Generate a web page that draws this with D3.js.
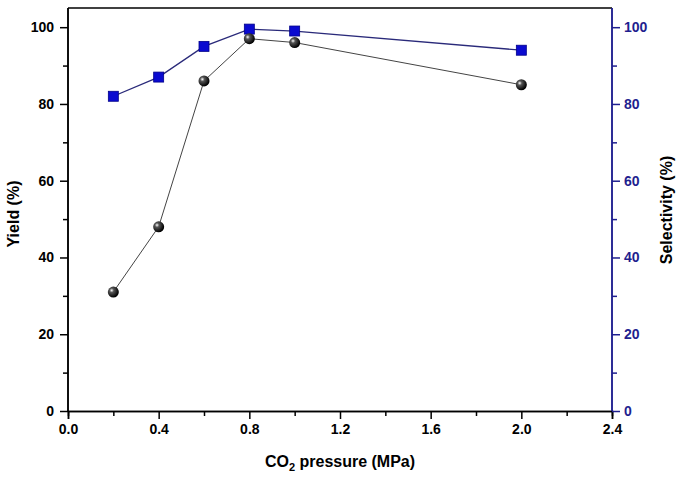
<!DOCTYPE html>
<html><head><meta charset="utf-8">
<script src="https://cdn.jsdelivr.net/npm/d3@7"></script>
<style>body{margin:0;background:#fff}svg{display:block;font-family:"Liberation Sans",Arial,sans-serif}</style>
</head><body><svg id="c" width="679" height="477"></svg>
<script>
const pressure = [0.2, 0.4, 0.6, 0.8, 1.0, 2.0];
const yieldVals = [31, 48, 86, 97, 96, 85];
const selectivity = [82, 87, 95, 99.5, 99, 94];
const xTicks = [0.0, 0.4, 0.8, 1.2, 1.6, 2.0, 2.4];
const yTicks = [0, 20, 40, 60, 80, 100];

const svg = d3.select("#c");
const L = 68, R = 612, T = 8, B = 411;
const x = d3.scaleLinear().domain([0, 2.4]).range([L, R]);
const yL = d3.scaleLinear().domain([0, 105]).range([B, T]);
const yR = d3.scaleLinear().domain([0, 105]).range([B, T]);
const navy = "#1f1f8f";

// frame top
svg.append("line").attr("x1", L).attr("x2", R).attr("y1", T).attr("y2", T).attr("stroke", "#000").attr("stroke-width", 1.5);

// bottom axis
const gx = svg.append("g").attr("transform", `translate(0,${B})`);
gx.call(d3.axisBottom(x).tickValues(d3.range(0.2, 2.4, 0.4)).tickSize(5).tickFormat(""));
const gx2 = svg.append("g").attr("transform", `translate(0,${B})`);
gx2.call(d3.axisBottom(x).tickValues(xTicks).tickSize(8).tickPadding(5).tickFormat(d3.format(".1f")));
[gx, gx2].forEach(g => { g.select(".domain").attr("stroke", "#000").attr("stroke-width", 1.5); g.selectAll(".tick line").attr("stroke", "#000").attr("stroke-width", 1.5); });
gx2.selectAll("text").attr("font-size", 14).attr("font-weight", "bold").attr("fill", "#000");

// left axis
const gy = svg.append("g").attr("transform", `translate(${L},0)`);
gy.call(d3.axisLeft(yL).tickValues(d3.range(10, 105, 20)).tickSize(5).tickFormat(""));
const gy2 = svg.append("g").attr("transform", `translate(${L},0)`);
gy2.call(d3.axisLeft(yL).tickValues(yTicks).tickSize(8).tickPadding(6));
[gy, gy2].forEach(g => { g.select(".domain").attr("stroke", "#000").attr("stroke-width", 1.5).attr("d", `M0,${B}V${T}`); g.selectAll(".tick line").attr("stroke", "#000").attr("stroke-width", 1.5); });
gy2.selectAll("text").attr("font-size", 14).attr("font-weight", "bold").attr("fill", "#000");

// right axis
const gr = svg.append("g").attr("transform", `translate(${R},0)`);
gr.call(d3.axisRight(yR).tickValues(d3.range(10, 105, 20)).tickSize(5).tickFormat(""));
const gr2 = svg.append("g").attr("transform", `translate(${R},0)`);
gr2.call(d3.axisRight(yR).tickValues(yTicks).tickSize(8).tickPadding(4));
[gr, gr2].forEach(g => { g.select(".domain").attr("stroke", navy).attr("stroke-width", 1.5).attr("d", `M0,${B}V${T}`); g.selectAll(".tick line").attr("stroke", navy).attr("stroke-width", 1.5); });
gr2.selectAll("text").attr("font-size", 14).attr("font-weight", "bold").attr("fill", navy);

// gradient for spheres
const defs = svg.append("defs");
const rg = defs.append("radialGradient").attr("id", "sph").attr("cx", "35%").attr("cy", "35%").attr("r", "65%");
rg.append("stop").attr("offset", "0%").attr("stop-color", "#ffffff");
rg.append("stop").attr("offset", "30%").attr("stop-color", "#555");
rg.append("stop").attr("offset", "100%").attr("stop-color", "#000");

// lines
const ly = d3.line().x((d,i) => x(pressure[i])).y(d => yL(d));
const ls = d3.line().x((d,i) => x(pressure[i])).y(d => yR(d));
svg.append("path").attr("d", ly(yieldVals)).attr("fill", "none").attr("stroke", "#444").attr("stroke-width", 1);
svg.append("path").attr("d", ls(selectivity)).attr("fill", "none").attr("stroke", "#2a2a7a").attr("stroke-width", 1.3);

svg.selectAll(".sq").data(selectivity).enter().append("rect")
  .attr("x", (d,i) => x(pressure[i]) - 5).attr("y", d => yR(d) - 5)
  .attr("width", 10).attr("height", 10).attr("fill", "#0a0ad0").attr("stroke", "#00008a").attr("stroke-width", 0.8);
svg.selectAll(".ball").data(yieldVals).enter().append("circle")
  .attr("cx", (d,i) => x(pressure[i])).attr("cy", d => yL(d)).attr("r", 5.5)
  .attr("fill", "url(#sph)");

// titles
svg.append("text").attr("transform", `translate(19,214) rotate(-90)`).attr("text-anchor", "middle")
  .attr("font-size", 16).attr("font-weight", "bold").text("Yield (%)");
svg.append("text").attr("transform", `translate(672,210) rotate(-90)`).attr("text-anchor", "middle")
  .attr("font-size", 16).attr("font-weight", "bold").text("Selectivity (%)");
const xt = svg.append("text").attr("x", 340).attr("y", 467).attr("text-anchor", "middle")
  .attr("font-size", 16).attr("font-weight", "bold");
xt.append("tspan").text("CO");
xt.append("tspan").attr("font-size", 11).attr("dy", 4).text("2");
xt.append("tspan").attr("dy", -4).text(" pressure (MPa)");
</script></body></html>
